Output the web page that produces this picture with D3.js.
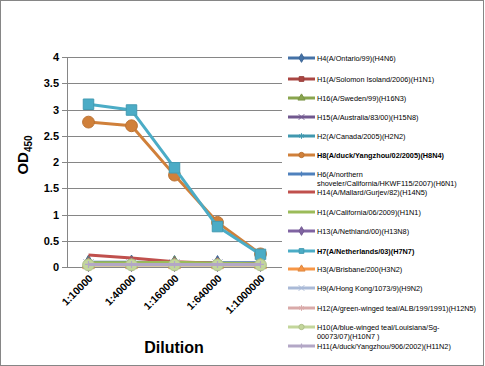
<!DOCTYPE html>
<html lang="en">
<head>
<meta charset="UTF-8">
<title>OD450 vs Dilution</title>
<script src="https://cdn.jsdelivr.net/npm/d3@7"></script>
<style>
  body { margin: 0; background: #fff; }
  text { font-family: "Liberation Sans", Arial, sans-serif; }
</style>
</head>
<body>
<svg width="485" height="366"></svg>
<script>
    // categories and tick values
    var dilutions = ["1:10000", "1:40000", "1:160000", "1:640000", "1:1000000"];
    var yTicks = [0, 0.5, 1, 1.5, 2, 2.5, 3, 3.5, 4];

    // series, in legend order
    var names = [
        "H4(A/Ontario/99)(H4N6)",
        "H1(A/Solomon Isoland/2006)(H1N1)",
        "H16(A/Sweden/99)(H16N3)",
        "H15(A/Australia/83/00)(H15N8)",
        "H2(A/Canada/2005)(H2N2)",
        "H8(A/duck/Yangzhou/02/2005)(H8N4)",
        "H6(A/northern|shoveler/California/HKWF115/2007)(H6N1)",
        "H14(A/Mallard/Gurjev/82)(H14N5)",
        "H1(A/California/06/2009)(H1N1)",
        "H13(A/Nethland/00)(H13N8)",
        "H7(A/Netherlands/03)(H7N7)",
        "H3(A/Brisbane/200(H3N2)",
        "H9(A/Hong Kong/1073/9)(H9N2)",
        "H12(A/green-winged teal/ALB/199/1991)(H12N5)",
        "H10(A/blue-winged teal/Louisiana/Sg-|00073/07)(H10N7 )",
        "H11(A/duck/Yangzhou/906/2002)(H11N2)"
    ];
    var values = [
        [0.09, 0.09, 0.08, 0.08, 0.08],
        [0.05, 0.05, 0.05, 0.05, 0.05],
        [0.07, 0.07, 0.08, 0.06, 0.05],
        [0.05, 0.05, 0.05, 0.05, 0.05],
        [0.05, 0.05, 0.05, 0.05, 0.05],
        [2.76, 2.69, 1.75, 0.85, 0.25],
        [0.07, 0.07, 0.06, 0.06, 0.06],
        [0.23, 0.17, 0.10, 0.07, 0.06],
        [0.08, 0.08, 0.09, 0.07, 0.06],
        [0.05, 0.05, 0.05, 0.05, 0.05],
        [3.10, 2.99, 1.89, 0.77, 0.24],
        [0.04, 0.04, 0.04, 0.04, 0.04],
        [0.05, 0.05, 0.05, 0.05, 0.05],
        [0.04, 0.04, 0.04, 0.04, 0.04],
        [0.04, 0.04, 0.04, 0.04, 0.04],
        [0.05, 0.05, 0.05, 0.05, 0.05]
    ];
    var colors = ["#4572A7", "#AA4643", "#89A54E", "#71588F", "#4198AF", "#D0803A",
                  "#4F81BD", "#C0504D", "#9BBB59", "#8064A2", "#4BACC6", "#F79646",
                  "#AABAD7", "#D9AAA9", "#C3D69B", "#B3A7C6"];
    var markers = ["diamond", "square", "triangle", "cross", "star", "circle",
                   "plus", "none", "none", "diamond", "square", "triangle",
                   "cross", "star", "circle", "plus"];

    var svg = d3.select("svg");

    svg.append("rect")
        .attr("x", 0.5).attr("y", 0.5)
        .attr("width", 483).attr("height", 365)
        .attr("fill", "none").attr("stroke", "#868686");

    var mLeft = 67, mRight = 282, mTop = 57, mBottom = 267;

    var x = d3.scaleBand().domain(dilutions).range([mLeft, mRight]);
    var y = d3.scaleLinear().domain([0, 4]).range([mBottom, mTop]);

    // gridlines
    svg.append("g")
        .selectAll("line")
        .data(yTicks)
        .join("line")
        .attr("x1", mLeft - 5).attr("x2", mRight)
        .attr("y1", function(d) { return Math.round(y(d)) + 0.5; })
        .attr("y2", function(d) { return Math.round(y(d)) + 0.5; })
        .attr("stroke", "#868686").attr("stroke-width", 1);

    svg.append("line")
        .attr("x1", mLeft + 0.5).attr("x2", mLeft + 0.5)
        .attr("y1", mTop).attr("y2", mBottom)
        .attr("stroke", "#868686");

    // y tick labels
    svg.append("g")
        .selectAll("text")
        .data(yTicks)
        .join("text")
        .attr("x", mLeft - 8)
        .attr("y", function(d) { return y(d) + 4; })
        .attr("text-anchor", "end")
        .attr("font-size", 11).attr("font-weight", "bold")
        .text(function(d) { return d; });

    // x tick labels
    svg.append("g")
        .selectAll("text")
        .data(dilutions)
        .join("text")
        .attr("transform", function(d) {
            return "translate(" + (x(d) + x.bandwidth() / 2 + 5) + "," + (mBottom + 12) + ") rotate(-45)";
        })
        .attr("text-anchor", "end")
        .attr("font-size", 10.5).attr("font-weight", "bold")
        .text(function(d) { return d; });

    // axis titles
    var yt = svg.append("text")
        .attr("transform", "translate(28,155) rotate(-90)")
        .attr("text-anchor", "middle")
        .attr("font-size", 15).attr("font-weight", "bold");
    yt.append("tspan").text("OD");
    yt.append("tspan").attr("font-size", 10).attr("dy", 4).text("450");

    svg.append("text")
        .attr("x", 174).attr("y", 353)
        .attr("text-anchor", "middle")
        .attr("font-size", 16).attr("font-weight", "bold")
        .text("Dilution");

    function markerPath(type, size) {
        var map = {
            diamond: d3.symbolDiamond, square: d3.symbolSquare, triangle: d3.symbolTriangle,
            cross: d3.symbolX, star: d3.symbolAsterisk, circle: d3.symbolCircle, plus: d3.symbolCross
        };
        return d3.symbol().type(map[type]).size(size)();
    }
    function drawMarker(g, type, color, cx, cy, size, half) {
        if (type == "none") return;
        var stroked = (type == "cross" || type == "star");
        g.append("path")
            .attr("d", type == "plus" ? "M-" + half + ",0H" + half + "M0,-" + half + "V" + half : markerPath(type, size))
            .attr("transform", "translate(" + cx + "," + cy + ")")
            .attr("fill", (stroked || type == "plus") ? "none" : color)
            .attr("stroke", type == "plus" ? color : (stroked ? color : d3.color(color).darker(0.3)))
            .attr("stroke-width", type == "plus" ? 1.2 : 1);
    }

    var line = d3.line()
        .x(function(d, i) { return x(dilutions[i]) + x.bandwidth() / 2; })
        .y(function(d) { return y(d); });

    var plot = svg.append("g");
    values.forEach(function(v, s) {
        plot.append("path")
            .datum(v)
            .attr("d", line)
            .attr("fill", "none")
            .attr("stroke", colors[s])
            .attr("stroke-width", 3)
            .attr("stroke-linejoin", "round");
        v.forEach(function(d, i) {
            var big = (s == 5 || s == 10 || s == 14);
            drawMarker(plot, markers[s], colors[s], x(dilutions[i]) + x.bandwidth() / 2, y(d), big ? 110 : 60, 3.5);
        });
    });

    // legend
    var legY = [58, 79, 98, 117, 136, 155, 174, 192, 212, 231, 251, 269, 288, 308, 327, 346];
    var leg = svg.append("g");
    names.forEach(function(n, s) {
        var ly = legY[s];
        leg.append("line")
            .attr("x1", 288).attr("x2", 315)
            .attr("y1", ly).attr("y2", ly)
            .attr("stroke", colors[s]).attr("stroke-width", 3);
        drawMarker(leg, markers[s], colors[s], 301.5, ly, 22, 2.5);
        var parts = n.split("|");
        var t = leg.append("text")
            .attr("x", 317).attr("y", ly + 2.5)
            .attr("font-size", 7.3)
            .attr("font-weight", s == 5 || s == 10 ? "bold" : "normal");
        parts.forEach(function(p, k) {
            t.append("tspan").attr("x", 317).attr("dy", k == 0 ? 0 : 9).text(p);
        });
    });
</script>
</body>
</html>
